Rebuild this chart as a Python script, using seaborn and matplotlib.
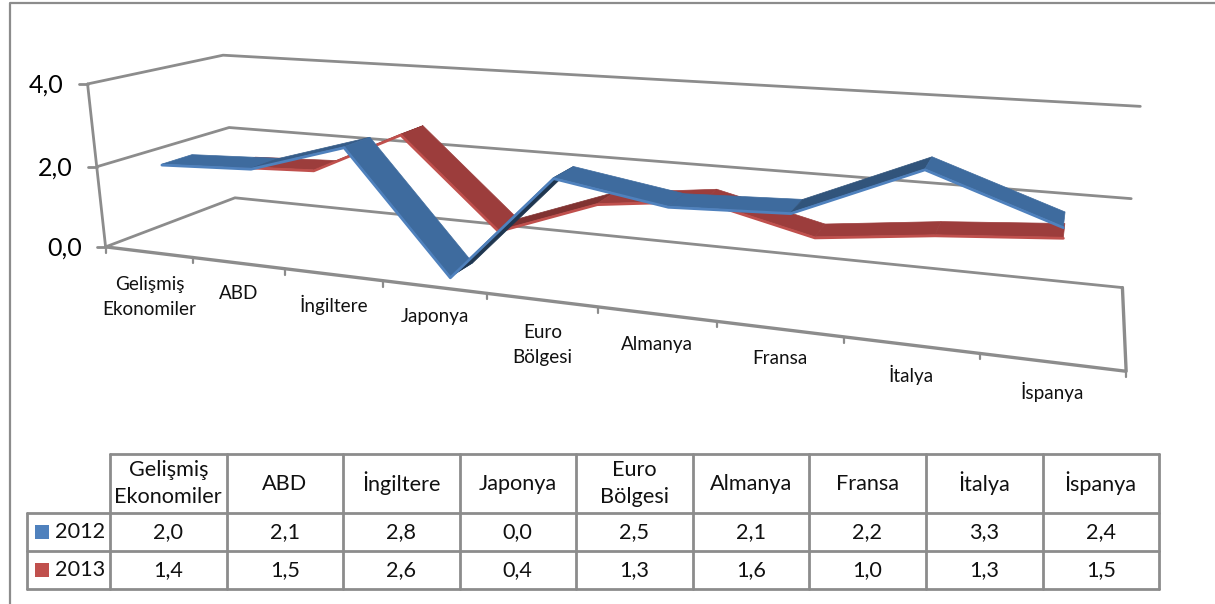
import numpy as np
import pandas as pd
import matplotlib
matplotlib.use("Agg")
import matplotlib.pyplot as plt
import seaborn as sns

categories = ["Gelişmiş\nEkonomiler", "ABD", "İngiltere", "Japonya", "Euro\nBölgesi",
              "Almanya", "Fransa", "İtalya", "İspanya"]
values_2012 = [2.0, 2.1, 2.8, 0.0, 2.5, 2.1, 2.2, 3.3, 2.4]
values_2013 = [1.4, 1.5, 2.6, 0.4, 1.3, 1.6, 1.0, 1.3, 1.5]
value_ticks = [0.0, 2.0, 4.0]
value_labels = ["0,0", "2,0", "4,0"]

sns.set_theme(style="white")
plt.rcParams["font.family"] = ["Lato", "DejaVu Sans"]

W, H = 1215, 604
fig = plt.figure(figsize=(W / 100, H / 100), dpi=100)
ax = fig.add_axes([0, 0, 1, 1])
ax.set_xlim(0, W)
ax.set_ylim(H, 0)
ax.axis("off")

GREY = "#8c8c8c"

# camera: solve a projective matrix from the visible corners of the 3-D box
world = np.array([[0, 0, 0], [0, 4, 0], [0, 0, 1], [0, 4, 1],
                  [9, 0, 1], [9, 4, 1], [9, 0, 0], [0, 2, 0], [0, 2, 1], [9, 2, 1]], float)
screen = np.array([[105, 247], [88, 84], [235, 198], [222, 55],
                   [1122, 287], [1140, 107], [1126, 372], [97, 166], [230, 128], [1132, 198]], float)
rows = []
for (a, b, c), (x, y) in zip(world, screen):
    rows.append([a, b, c, 1, 0, 0, 0, 0, -x * a, -x * b, -x * c, -x])
    rows.append([0, 0, 0, 0, a, b, c, 1, -y * a, -y * b, -y * c, -y])
P = np.linalg.svd(np.array(rows))[2][-1].reshape(3, 4)


def proj(cat, val, depth):
    q = P @ np.array([cat, val, depth, 1.0])
    return q[0] / q[2], q[1] / q[2]


def line3d(pts, lw=2.0, color=GREY, z=1):
    xy = np.array([proj(*p) for p in pts])
    ax.plot(xy[:, 0], xy[:, 1], color=color, lw=lw, zorder=z, solid_capstyle="round")


# walls and floor
for v in value_ticks:
    line3d([(0, v, 0), (0, v, 1), (9, v, 1)])
line3d([(0, 0, 0), (0, 4, 0)])
line3d([(0, 0, 0), (9, 0, 0), (9, 0, 1)], lw=2.4)
for v, lab in zip(value_ticks, value_labels):
    x, y = proj(0, v, 0)
    ax.plot([x - 9, x], [y, y], color=GREY, lw=2, zorder=1)
    ax.text(x - 24, y + 1, lab, ha="right", va="center", fontsize=18, color="black")
for i in range(10):
    x, y = proj(i, 0, 0)
    ax.plot([x, x], [y, y + 6], color=GREY, lw=1.6, zorder=1)
for i, lab in enumerate(categories):
    x, y = proj(i + 0.5, 0, 0)
    extra = 15 if "\n" in lab else 0
    ax.text(x + 1, y + 30 + extra, lab, ha="center", va="center", fontsize=13.6,
            linespacing=1.55, color="#111111")


def shade(rgb, dv):
    f = 1.0 if dv <= 0.35 else max(0.5, 1.0 - 0.2 * dv)
    return tuple(np.array(rgb) * f)


def ribbon(vals, d0, d1, top_rgb, edge, name, z):
    for i in range(len(vals) - 1):
        quad = [proj(i + .5, vals[i], d0), proj(i + 1.5, vals[i + 1], d0),
                proj(i + 1.5, vals[i + 1], d1), proj(i + .5, vals[i], d1)]
        ax.fill(*zip(*quad), color=shade(top_rgb, vals[i + 1] - vals[i]), lw=0.5, zorder=z)
    xy = np.array([proj(i + .5, v, d0) for i, v in enumerate(vals)])
    df = pd.DataFrame({"x": xy[:, 0], "y": xy[:, 1] + 1, "series": name})
    sns.lineplot(data=df, x="x", y="y", sort=False, estimator=None, color=edge, lw=2.0,
                 legend=False, ax=ax, zorder=z + 0.5)


ribbon(values_2013, 0.65, 0.87, (0.61, 0.24, 0.235), "#c0504d", "2013", 3)
ribbon(values_2012, 0.15, 0.37, (0.245, 0.42, 0.62), "#4f81bd", "2012", 5)
ax.set_xlabel("")
ax.set_ylabel("")
ax.set_xlim(0, W)
ax.set_ylim(H, 0)
ax.axis("off")

# outer frame
ax.plot([9.5, 9.5, W], [H, 2.5, 2.5], color=GREY, lw=1.6, zorder=1)

# data table
cols = [110, 226.5, 343, 459.5, 576, 692.5, 809, 926, 1042.5, 1159]
ys = [454, 512.5, 551, 589]
for x in cols:
    ax.plot([x, x], [ys[0], ys[-1]], color=GREY, lw=2, zorder=1)
for y in ys[:1]:
    ax.plot([cols[0], cols[-1]], [y, y], color=GREY, lw=2, zorder=1)
for y in ys[1:]:
    ax.plot([27, cols[-1]], [y, y], color=GREY, lw=2, zorder=1)
ax.plot([27, 27], [ys[1], ys[3]], color=GREY, lw=2, zorder=1)
TS = 15.6
for j, lab in enumerate(categories):
    xc = (cols[j] + cols[j + 1]) / 2
    ax.text(xc, 483.5, lab, ha="center", va="center", fontsize=TS, linespacing=1.45, color="#111111")
    ax.text(xc, 532, f"{values_2012[j]:.1f}".replace(".", ","), ha="center", va="center",
            fontsize=TS, color="#111111")
    ax.text(xc, 570, f"{values_2013[j]:.1f}".replace(".", ","), ha="center", va="center",
            fontsize=TS, color="#111111")
for yc, name, col in [(532, "2012", "#4f81bd"), (570, "2013", "#c0504d")]:
    ax.add_patch(plt.Rectangle((35, yc - 7), 14, 14, color=col, lw=0, zorder=2))
    ax.text(54.5, yc, name, ha="left", va="center", fontsize=TS, color="#111111")

fig.savefig("out.png", dpi=100)
